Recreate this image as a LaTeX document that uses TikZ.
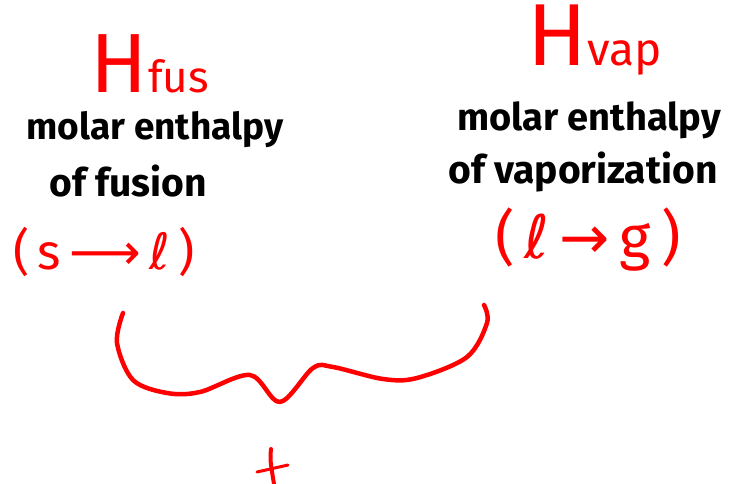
\documentclass[tikz,border=0pt]{standalone}
\usepackage{fontspec}
\setmainfont{Fira Sans}
\newfontfamily\dv{DejaVu Sans}
\definecolor{ink}{RGB}{255,0,0}
\begin{document}
\begin{tikzpicture}[x=1pt,y=-1pt,
  lbl/.style={inner sep=0pt, text=black, font=\bfseries\fontsize{37}{40}\selectfont},
  red lbl/.style={inner sep=0pt, text=ink},
  pen/.style={draw=ink, line width=4.5pt, line cap=round, line join=round}]
\useasboundingbox[fill=white] (0,0) rectangle (737,484);
\clip (0,0) rectangle (737,484);
% left column
\node[red lbl, anchor=base] (hfus) at (150,93) {\fontsize{84}{84}\selectfont H\fontsize{44}{44}\selectfont fus};
\node[lbl] (molar1) at (155,130) {molar enthalpy};
\node[lbl, font=\bfseries\fontsize{39}{40}\selectfont] (fusion) at (128,181) {of fusion};
\node[red lbl, font=\fontsize{50}{52}\selectfont] (sl) at (104,252) {(\,s\,{\dv ⟶}\,{\dv ℓ}\,)};
% right column
\node[red lbl, anchor=base] (hvap) at (595,66) {\fontsize{88}{88}\selectfont H\fontsize{46}{46}\selectfont vap};
\node[lbl, font=\bfseries\fontsize{38}{40}\selectfont] (molar2) at (589,120) {molar enthalpy};
\node[lbl, font=\bfseries\fontsize{39}{40}\selectfont] (vap) at (583,172) {of vaporization};
\node[red lbl, font=\fontsize{60}{62}\selectfont] (lg) at (588,240) {(\,{\dv ℓ}\,{\dv →}\,g\,)};
% brace
\coordinate (bl) at (123,313);
\coordinate (br) at (484,305);
\coordinate (tip) at (280,402);
\draw[pen] plot[smooth, tension=0.55] coordinates {(123,313) (117,343) (133,380) (167,393) (200,392) (250,375) (280,402) (313,368) (333,367) (383,379) (417,378) (467,357) (487,323) (484,305)};
% plus sign (cut off)
\coordinate (pt) at (271,449);
\coordinate (pb) at (275,490);
\coordinate (pl) at (257,472);
\coordinate (pr) at (288,465);
\draw[pen, line width=4pt] (pt) .. controls (270,460) .. (pb);
\draw[pen, line width=3pt] (pl) -- (pr);
\end{tikzpicture}
\end{document}
